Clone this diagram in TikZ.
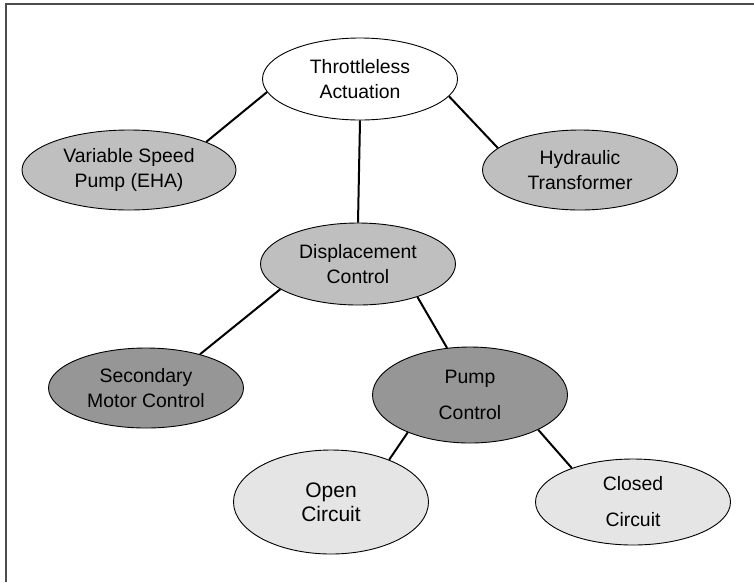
\documentclass[tikz,border=0pt]{standalone}
\usepackage{fontspec}
\setmainfont{Liberation Sans}
\usetikzlibrary{shapes.geometric}
\tikzset{
    every picture/.style = {
        x = 1pt,
        y = -1pt
    },
    bubble/.style = {
        ellipse,
        draw,
        line width = 0.9pt,
        inner sep = 0pt,
        align = center,
        minimum width = 195pt,
        minimum height = 80pt,
        font = \fontsize{19.4}{25}\selectfont
    },
    palebubble/.style = {bubble, fill = black!10},
    midbubble/.style  = {bubble, fill = black!25},
    darkbubble/.style = {bubble, fill = black!41},
    link/.style = {line width = 2pt},
    frame/.style = {line width = 2pt, draw = black!70}
}

\begin{document}
\begin{tikzpicture}
    \useasboundingbox (0,0) rectangle (754,582);
    \draw[frame] (6,582) -- (6,4) -- (754,4);

    % top level
    \node[bubble, fill = white, minimum height = 82pt] (tt) at (360,79) {Throttleless\\Actuation};
    \node[midbubble, minimum width = 214pt] (var) at (129,170) {Variable Speed\\Pump (EHA)};
    \node[midbubble] (hyd) at (580,170) {Hydraulic\\Transformer};
    \node[midbubble, minimum height = 82pt] (disp) at (358,264) {Displacement\\Control};

    % displacement control
    \node[darkbubble] (sec) at (146,388) {Secondary\\Motor Control};
    \node[darkbubble, minimum height = 96pt] (pump) at (470,395) {Pump\\[11pt]Control};

    % pump control
    \node[palebubble, minimum height = 104pt, font = \fontsize{21}{24}\selectfont] (open) at (331,502) {Open\\Circuit};
    \node[palebubble, minimum height = 86pt] (closed) at (633,502) {Closed\\[11pt]Circuit};

    \path[link] (tt.188) edge (var.20);
    \path[link] (tt.349) edge (hyd.165);
    \path[link] (tt.south) edge (disp.north);
    \path[link] (disp.198) edge (sec.32);
    \path[link] (disp.331) edge (pump.116);
    \path[link] (pump.211) edge (open.36);
    \path[link] (pump.333) edge (closed.151);
\end{tikzpicture}
\end{document}
